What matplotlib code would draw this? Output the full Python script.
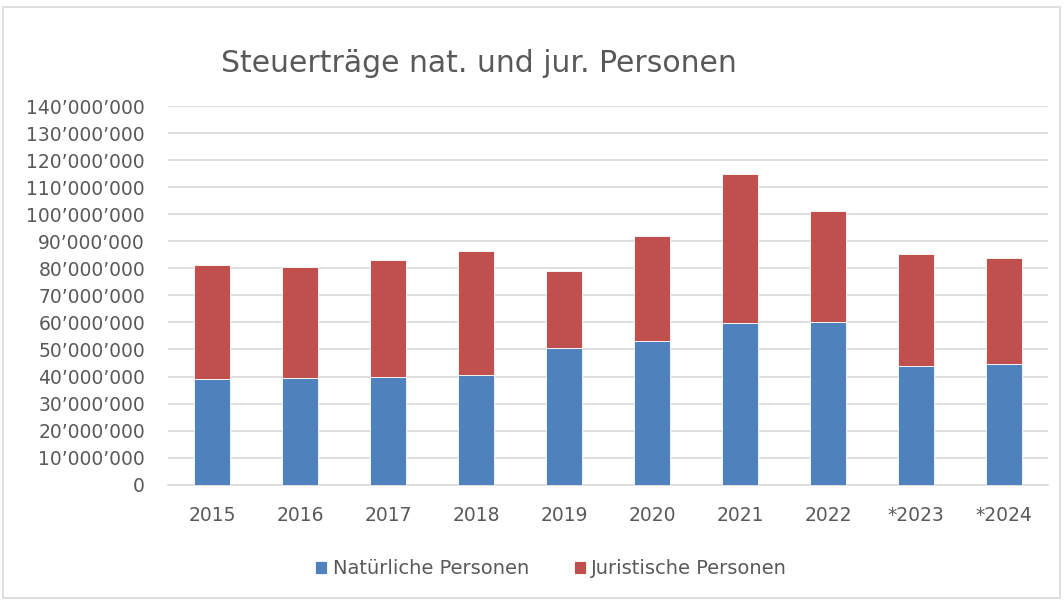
import matplotlib
matplotlib.use("Agg")
import matplotlib.pyplot as plt
from matplotlib.patches import Rectangle
from matplotlib.ticker import FuncFormatter
import numpy as np

years = ["2015", "2016", "2017", "2018", "2019", "2020", "2021", "2022", "*2023", "*2024"]
natuerliche = [39.0, 39.4, 39.8, 40.4, 50.5, 53.3, 59.8, 60.1, 43.7, 44.7]
juristische = [42.4, 41.2, 43.4, 46.0, 28.4, 38.7, 55.0, 41.2, 41.5, 39.2]
natuerliche = [v * 1e6 for v in natuerliche]
juristische = [v * 1e6 for v in juristische]

title = "Steuerträge nat. und jur. Personen"
blue = "#4F81BD"
red = "#C0504D"
txt = "#595959"

plt.rcParams['font.family'] = ['DejaVu Sans']

fig = plt.figure(figsize=(10.64, 6.01), dpi=100)
ax = fig.add_axes([168/1064, 1 - 484.7/601, (1048-168)/1064, (484.7-106)/601])

x = np.arange(len(years))
ax.bar(x, natuerliche, width=0.42, color=blue, edgecolor="white", linewidth=0.6, label="Natürliche Personen", zorder=3)
ax.bar(x, juristische, width=0.42, bottom=natuerliche, color=red, edgecolor="white", linewidth=0.6, label="Juristische Personen", zorder=3)

ax.set_xlim(-0.5, len(years) - 0.5)
ax.set_ylim(0, 140e6)
ax.set_yticks(np.arange(0, 140e6 + 1, 10e6))
ax.yaxis.set_major_formatter(FuncFormatter(lambda v, p: "{:,.0f}".format(v).replace(",", "’")))
ax.set_xticks(x)
ax.set_xticklabels(years)
ax.grid(axis="y", color="#D9D9D9", linewidth=1.2, zorder=0)
for s in ["top", "right", "left"]:
    ax.spines[s].set_visible(False)
ax.spines["bottom"].set_color("#D9D9D9")
ax.spines["bottom"].set_linewidth(1.2)
ax.tick_params(axis="both", length=0, colors=txt, labelsize=13.5)
ax.tick_params(axis="x", pad=15.5)
ax.tick_params(axis="y", pad=16.5)

fig.text(479/1064, 1 - 63/601, title, ha="center", va="center", fontsize=21.5, color=txt)

leg = fig.legend(loc="center", bbox_to_anchor=(551/1064, 1 - 569/601), ncol=2, frameon=False,
                 fontsize=14, handlelength=0.62, handleheight=0.62, handletextpad=0.3, columnspacing=2.3)
for t in leg.get_texts():
    t.set_color(txt)

fig.patches.append(Rectangle((3/1064, 3/601), 1057/1064, (601-10)/601, transform=fig.transFigure,
                             fill=False, edgecolor="#D9D9D9", linewidth=1.2))

fig.savefig("out.png", dpi=100)
